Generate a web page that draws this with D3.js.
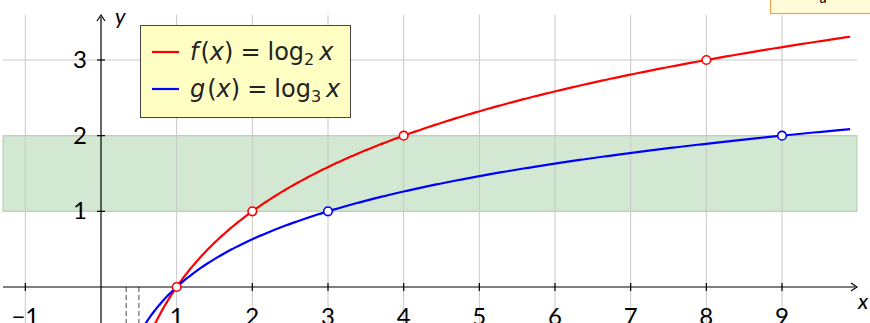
<!DOCTYPE html>
<html><head><meta charset="utf-8">
<script src="https://cdn.jsdelivr.net/npm/d3@7"></script>
<style>
html,body{margin:0;padding:0;background:#fff;}
svg{display:block;font-family:Lato,"DejaVu Sans",sans-serif;}
</style></head><body>
<svg id="c" width="870" height="323"></svg>
<script>
const xTicks = [-1,1,2,3,4,5,6,7,8,9];
const xGrid = [-1,1,2,3,4,5,6,7,8,9];
const yTicks = [1,2,3];
const seriesNames = ["f","g"];
const seriesBases = [2,3];
const seriesColors = ["#ff0000","#0000ff"];
const redPointsX = [1,2,4,8];
const redPointsY = [0,1,2,3];
const bluePointsX = [3,9];
const bluePointsY = [1,2];
const bandRange = [1,2];
const dashedX = [1/3, 1/2];
const curveEnd = 9.9;

(function(){
const svg = d3.select("#c");
const x = d3.scaleLinear().domain([0,9]).range([101,782]);
const y = d3.scaleLinear().domain([0,3]).range([287,60]);
const L = 3, R = 857, T = 15, B = 323;

// green band
svg.append("rect").attr("x",L).attr("y",y(bandRange[1]))
  .attr("width",R-L).attr("height",y(bandRange[0])-y(bandRange[1]))
  .attr("fill","#d2e8d2").attr("stroke","#a9d1a9").attr("stroke-width",1);

// grid
svg.append("g").selectAll("line").data(xGrid).join("line")
  .attr("x1",d=>x(d)).attr("x2",d=>x(d)).attr("y1",T).attr("y2",B)
  .attr("stroke","#c8c8c8").attr("stroke-width",1);
svg.append("g").selectAll("line").data(yTicks).join("line")
  .attr("x1",L).attr("x2",R).attr("y1",d=>y(d)).attr("y2",d=>y(d))
  .attr("stroke","#c8c8c8").attr("stroke-width",1);

// dashed
svg.append("g").selectAll("line").data(dashedX).join("line")
  .attr("x1",d=>x(d)).attr("x2",d=>x(d)).attr("y1",y(0)).attr("y2",B)
  .attr("stroke","#666").attr("stroke-width",1.2).attr("stroke-dasharray","5,3");

// axes
svg.append("line").attr("x1",L).attr("x2",R-2).attr("y1",y(0)).attr("y2",y(0))
  .attr("stroke","#000").attr("stroke-width",1.2);
svg.append("path").attr("d",`M${R-6},${y(0)-4} L${R},${y(0)} L${R-6},${y(0)+4}`)
  .attr("fill","none").attr("stroke","#000").attr("stroke-width",1.2);
svg.append("line").attr("x1",x(0)).attr("x2",x(0)).attr("y1",B).attr("y2",T+2)
  .attr("stroke","#000").attr("stroke-width",1.2);
svg.append("path").attr("d",`M${x(0)-4},${T+6} L${x(0)},${T} L${x(0)+4},${T+6}`)
  .attr("fill","none").attr("stroke","#000").attr("stroke-width",1.2);

// ticks
svg.append("g").selectAll("line").data(xTicks).join("line")
  .attr("x1",d=>x(d)).attr("x2",d=>x(d)).attr("y1",y(0)-4).attr("y2",y(0)+4)
  .attr("stroke","#000").attr("stroke-width",1.2);
svg.append("g").selectAll("line").data(yTicks).join("line")
  .attr("x1",x(0)-4).attr("x2",x(0)+4).attr("y1",d=>y(d)).attr("y2",d=>y(d))
  .attr("stroke","#000").attr("stroke-width",1.2);

// tick labels
svg.append("g").selectAll("text").data(xTicks).join("text")
  .attr("x",d=>x(d)).attr("y",y(0)+38).attr("text-anchor","middle")
  .attr("font-size",24).text(d=>d<0?"\u2212"+Math.abs(d):d);
svg.append("g").selectAll("text").data(yTicks).join("text")
  .attr("x",x(0)-14).attr("y",d=>y(d)+8).attr("text-anchor","end")
  .attr("font-size",24).text(d=>d);

// axis labels
svg.append("text").attr("x",R+1).attr("y",y(0)+22).attr("font-size",22)
  .attr("font-style","italic").text("x");
svg.append("text").attr("x",x(0)+14).attr("y",T+9).attr("font-size",22)
  .attr("font-style","italic").text("y");

// curves
const line = d3.line().x(d=>x(d[0])).y(d=>y(d[1]));
seriesBases.forEach((b,i)=>{
  const yMin = y.invert(B+2);
  const xStart = Math.pow(b, yMin);
  const pts = [];
  const n = 400;
  for(let k=0;k<=n;k++){
    const t = xStart*Math.pow(curveEnd/xStart,k/n);
    pts.push([t, Math.log(t)/Math.log(b)]);
  }
  svg.append("path").attr("d",line(pts)).attr("fill","none")
    .attr("stroke",seriesColors[i]).attr("stroke-width",2.2);
});

// points
svg.append("g").selectAll("circle").data(bluePointsX.map((v,i)=>[v,bluePointsY[i]])).join("circle")
  .attr("cx",d=>x(d[0])).attr("cy",d=>y(d[1])).attr("r",4.3)
  .attr("fill","#fff").attr("stroke",seriesColors[1]).attr("stroke-width",1.6);
svg.append("g").selectAll("circle").data(redPointsX.map((v,i)=>[v,redPointsY[i]])).join("circle")
  .attr("cx",d=>x(d[0])).attr("cy",d=>y(d[1])).attr("r",4.3)
  .attr("fill","#fff").attr("stroke",seriesColors[0]).attr("stroke-width",1.6);

// legend
const lg = svg.append("g");
lg.append("rect").attr("x",140.5).attr("y",25.5).attr("width",210).attr("height",92)
  .attr("fill","#ffffc4").attr("stroke","#444").attr("stroke-width",1);
const legendRows = [52, 89];
seriesNames.forEach((nm,i)=>{
  const yy = legendRows[i];
  lg.append("line").attr("x1",152).attr("x2",179).attr("y1",yy).attr("y2",yy)
    .attr("stroke",seriesColors[i]).attr("stroke-width",2.2);
  const t = lg.append("text").attr("x",190).attr("y",yy+8).attr("font-size",24).attr("fill","#222")
    .attr("font-family","'DejaVu Sans',sans-serif");
  t.append("tspan").attr("font-style","italic").text(nm);
  t.append("tspan").attr("dx",2).text("(");
  t.append("tspan").attr("font-style","italic").text("x");
  t.append("tspan").text(")");
  t.append("tspan").attr("dx",7).text("=");
  t.append("tspan").attr("dx",7).text("log");
  t.append("tspan").attr("font-size",16).attr("dy",5).text(seriesBases[i]);
  t.append("tspan").attr("dy",-5).attr("dx",5).attr("font-style","italic").text("x");
});

// top-right box (cut off)
svg.append("rect").attr("x",770.5).attr("y",-20).attr("width",110).attr("height",33.5)
  .attr("fill","#fffbd8").attr("stroke","#f6a445").attr("stroke-width",1.2);
const gt = svg.append("text").attr("x",806).attr("y",-1).attr("font-size",20).attr("font-style","italic");
gt.append("tspan").text("G");
gt.append("tspan").attr("font-size",14).attr("dy",4).text("a");
})();
</script>
</body></html>
